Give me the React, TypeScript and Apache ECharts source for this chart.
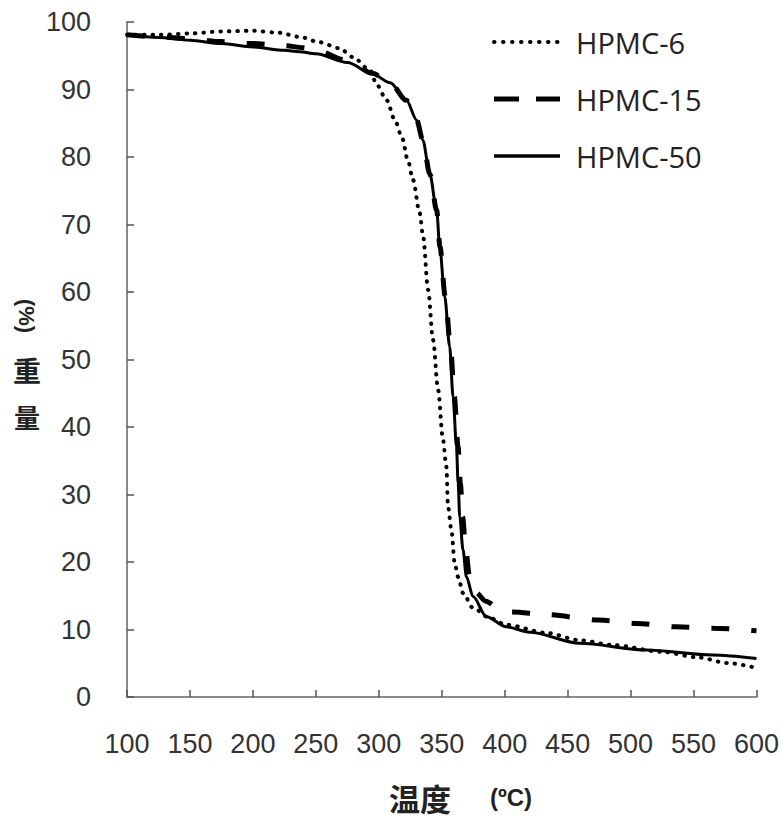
import React, { useEffect, useRef } from "react";
import * as echarts from "echarts";

const xTicks = [100, 150, 200, 250, 300, 350, 400, 450, 500, 550, 600];

const t6 = [100, 125, 150, 175, 200, 221, 237, 253, 269, 279.4, 292.9, 298.4, 306.3, 312.7, 318.3, 323, 327.2, 332.5, 335.2, 339.2, 343.1, 347.1, 351, 353.7, 355, 357.7, 360.3, 363, 366.9, 374.8, 388.1, 401.3, 433, 460, 486, 525, 552, 578.6, 600];
const w6 = [98.1, 98.1, 98.3, 98.6, 98.7, 98.4, 97.8, 97.0, 96.1, 94.8, 92.9, 90.7, 88.4, 85.5, 83.0, 79.6, 76.6, 71.7, 68.2, 60.3, 52.9, 45.5, 38.1, 34.1, 28.2, 24.7, 19.8, 17.8, 15.4, 13.2, 11.7, 10.7, 9.5, 8.4, 7.7, 6.7, 5.9, 5.0, 4.3];

const t15 = [100, 125, 150, 175, 200, 225, 240, 250, 275, 295, 309, 322, 330, 335, 340.5, 346, 348.6, 352.8, 357, 360, 363, 364.8, 366.6, 369, 372, 377, 385, 395, 406, 433, 475, 505, 536, 566, 600];
const w15 = [98.1, 97.8, 97.5, 97.1, 96.8, 96.5, 96.2, 95.8, 94.3, 92.4, 91.0, 88.4, 85.5, 82.5, 77.5, 72.1, 66.7, 59.3, 51.9, 44.5, 37.1, 31.7, 26.7, 21.8, 18.0, 15.5, 14.2, 13.2, 12.6, 12.2, 11.4, 10.9, 10.4, 10.2, 9.8];

const t50 = [100, 125, 150, 175, 200, 225, 237, 250, 275, 295, 309, 322, 330, 335, 340.5, 346, 348.4, 352.4, 356.3, 359, 361.7, 363, 364.3, 366.9, 369.6, 374.8, 385.5, 401.3, 420, 459.5, 512.5, 565.3, 600];
const w50 = [98.1, 97.7, 97.3, 96.8, 96.3, 95.8, 95.6, 95.3, 94.0, 92.3, 91.0, 88.4, 85.5, 82.5, 77.5, 72.1, 66.7, 59.3, 51.9, 44.5, 37.1, 31.7, 26.7, 21.8, 17.8, 14.9, 11.9, 10.4, 9.6, 7.95, 6.96, 6.22, 5.7];

const seriesNames = ["HPMC-6", "HPMC-15", "HPMC-50"];

const zip = (a: number[], b: number[]) => a.map((v, i) => [v, b[i]]);

const dotStyle = { stroke: "#000", lineWidth: 4, lineDash: [0.5, 8.5], lineCap: "round" };
const dashStyle = { stroke: "#000", lineWidth: 5, lineDash: [18, 22] };
const solidStyle = { stroke: "#000", lineWidth: 3.5 };

export default function App() {
  const ref = useRef<HTMLDivElement>(null);
  useEffect(() => {
    if (!ref.current) return;
    const chart = echarts.init(ref.current, null, { renderer: "svg" });
    const axisLine = { show: true, lineStyle: { color: "#8a8a8a", width: 2 } };
    const legendRows = [
      { name: seriesNames[0], y: 42, style: dotStyle },
      { name: seriesNames[1], y: 99, style: { ...dashStyle, lineDash: [25, 17] } },
      { name: seriesNames[2], y: 156, style: solidStyle },
    ];
    const legendGraphics: any[] = [];
    legendRows.forEach((r) => {
      legendGraphics.push({
        type: "line",
        shape: { x1: 494, y1: r.y, x2: 560, y2: r.y },
        style: r.style,
      });
      legendGraphics.push({
        type: "text",
        x: 576,
        y: r.y,
        style: { text: r.name, fontSize: 29, fill: "#222", fontFamily: "Open Sans", textVerticalAlign: "middle" },
      });
    });
    chart.setOption({
      animation: false,
      backgroundColor: "#fff",
      grid: { left: 127, right: 25, top: 22, bottom: 122 },
      xAxis: {
        type: "value",
        min: 100,
        max: 600,
        interval: 50,
        axisLine,
        axisTick: { show: true, inside: true, length: 7, lineStyle: { color: "#555", width: 1.5 } },
        splitLine: { show: false },
        axisLabel: { fontSize: 27, color: "#333", margin: 33, fontFamily: "Liberation Sans" },
      },
      yAxis: {
        type: "value",
        min: 0,
        max: 100,
        interval: 10,
        axisLine,
        axisTick: { show: true, inside: true, length: 7, lineStyle: { color: "#555", width: 1.5 } },
        splitLine: { show: false },
        axisLabel: { fontSize: 27, color: "#333", margin: 36, fontFamily: "Liberation Sans" },
      },
      graphic: [
        ...legendGraphics,
        { type: "text", x: 420, y: 797, style: { text: "温度", fontSize: 31, fontWeight: "bold", fill: "#222", fontFamily: "Noto Sans CJK SC", textAlign: "center", textVerticalAlign: "middle" } },
        { type: "text", x: 511, y: 797, style: { text: "(ºC)", fontSize: 24, fontWeight: "bold", fill: "#222", fontFamily: "Liberation Sans", textAlign: "center", textVerticalAlign: "middle" } },
        { type: "text", x: 26, y: 316, rotation: -Math.PI / 2, style: { text: "(%)", fontSize: 22, fontWeight: "bold", fill: "#222", fontFamily: "Liberation Sans", textAlign: "center", textVerticalAlign: "middle" } },
        { type: "text", x: 27, y: 370, style: { text: "重", fontSize: 28, fontWeight: "bold", fill: "#222", fontFamily: "Noto Sans CJK SC", textAlign: "center", textVerticalAlign: "middle" } },
        { type: "text", x: 27, y: 416, style: { text: "量", fontSize: 26, fontWeight: "bold", fill: "#222", fontFamily: "Noto Sans CJK SC", textAlign: "center", textVerticalAlign: "middle" } },
      ],
      series: [
        {
          name: seriesNames[0],
          type: "line",
          data: zip(t6, w6),
          symbol: "none",
          smooth: 0.3,
          smoothMonotone: "x",
          lineStyle: { color: "#000", width: 4, type: [0.5, 8], cap: "round" },
          z: 3,
        },
        {
          name: seriesNames[1],
          type: "line",
          data: zip(t15, w15),
          symbol: "none",
          smooth: 0.3,
          smoothMonotone: "x",
          lineStyle: { color: "#000", width: 5, type: [18, 22] },
          z: 2,
        },
        {
          name: seriesNames[2],
          type: "line",
          data: zip(t50, w50),
          symbol: "none",
          smooth: 0.3,
          smoothMonotone: "x",
          lineStyle: { color: "#000", width: 3, type: "solid" },
          z: 4,
        },
      ],
    });
    return () => chart.dispose();
  }, []);
  return <div ref={ref} style={{ position: "fixed", left: 0, top: 0, width: 782, height: 819, background: "#fff" }} />;
}
